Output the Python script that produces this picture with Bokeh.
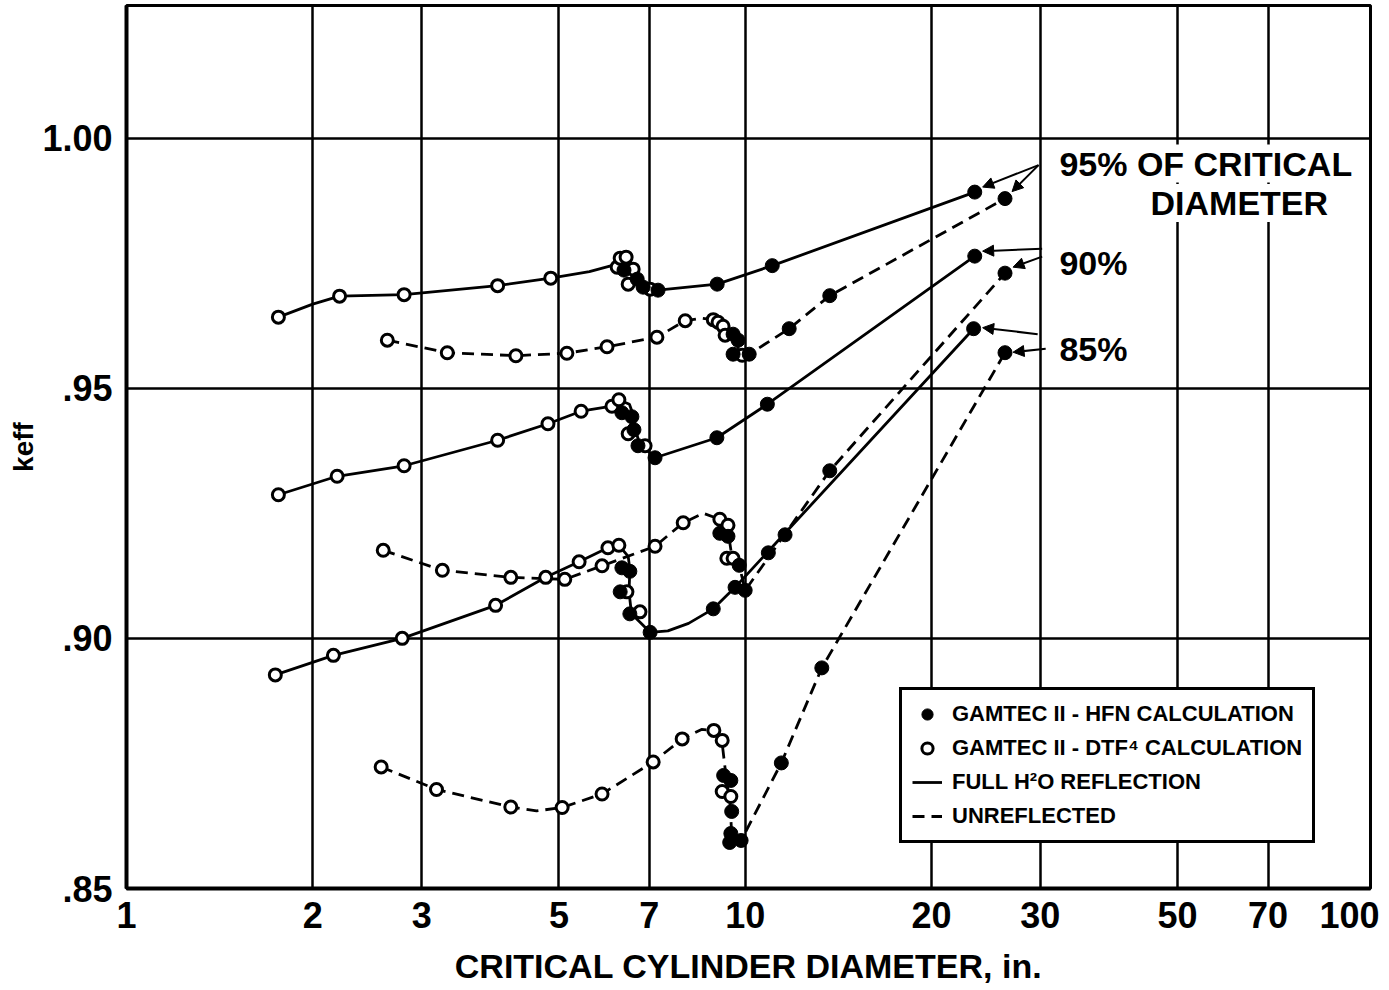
from bokeh.plotting import figure
from bokeh.models import FixedTicker, Legend, LegendItem, Arrow, NormalHead, Label
from bokeh.embed import file_html
from bokeh.resources import INLINE

FONT = "Liberation Sans"

# ---- axis ticks ----
x_ticks = [1, 2, 3, 5, 7, 10, 20, 30, 50, 70, 100]
x_grid = [2, 3, 5, 7, 10, 20, 30, 50, 70]
y_ticks = [0.85, 0.90, 0.95, 1.00]
y_tick_labels = [".85", ".90", ".95", "1.00"]

# ---- 95% of critical diameter, full H2O reflection ----
c95_full_line_x = [1.76, 2.0, 2.21, 2.81, 3.98, 4.85, 5.6, 6.21, 6.3, 6.45, 6.6, 6.75, 7.0, 7.23, 9.01, 11.06, 23.5]
c95_full_line_k = [.9642, .9668, .9684, .9687, .9705, .9720, .9733, .9748, .9762, .9764, .9742, .9710, .9697, .9696, .9708, .9745, .9892]
c95_full_dtf_x = [1.76, 2.21, 2.81, 3.98, 4.85, 6.21, 6.28, 6.42, 6.59, 6.47, 7.02]
c95_full_dtf_k = [.9642, .9684, .9687, .9705, .9720, .9742, .9760, .9762, .9738, .9708, .9698]
c95_full_hfn_x = [6.37, 6.69, 6.84, 7.23, 9.01, 11.06, 23.5]
c95_full_hfn_k = [.9736, .9718, .9702, .9696, .9708, .9745, .9892]

# ---- 95%, unreflected ----
c95_bare_line_x = [2.64, 3.30, 4.26, 5.15, 5.98, 7.2, 8.0, 8.5, 8.88, 9.21, 9.5, 9.7, 9.9, 10.15, 11.78, 13.7, 26.3]
c95_bare_line_k = [.9596, .9571, .9565, .9570, .9583, .9602, .9635, .9640, .9637, .9624, .9605, .9585, .9566, .9568, .9619, .9685, .9879]
c95_bare_dtf_x = [2.64, 3.30, 4.26, 5.15, 5.98, 7.2, 8.0, 8.88, 9.04, 9.21, 9.28, 9.89]
c95_bare_dtf_k = [.9596, .9571, .9565, .9570, .9583, .9602, .9635, .9637, .9632, .9624, .9606, .9566]
c95_bare_hfn_x = [9.56, 9.74, 9.56, 10.15, 11.78, 13.7, 26.3]
c95_bare_hfn_k = [.9608, .9596, .9568, .9568, .9619, .9685, .9879]

# ---- 90%, full H2O reflection ----
c90_full_line_x = [1.76, 2.19, 2.81, 3.98, 4.8, 5.43, 6.09, 6.25, 6.5, 6.6, 6.63, 6.75, 7.15, 9.0, 10.86, 23.5]
c90_full_line_k = [.9287, .9324, .9345, .9396, .9429, .9454, .9464, .9477, .9468, .9445, .9420, .9390, .9361, .9401, .9468, .9764]
c90_full_dtf_x = [1.76, 2.19, 2.81, 3.98, 4.8, 5.43, 6.09, 6.25, 6.47, 6.89]
c90_full_dtf_k = [.9287, .9324, .9345, .9396, .9429, .9454, .9464, .9477, .9409, .9385]
c90_full_hfn_x = [6.32, 6.56, 6.61, 6.71, 7.15, 9.0, 10.86, 23.5]
c90_full_hfn_k = [.9451, .9443, .9417, .9385, .9361, .9401, .9468, .9764]

# ---- 90%, unreflected ----
c90_bare_line_x = [2.6, 3.24, 4.18, 5.11, 5.87, 7.15, 7.94, 8.56, 9.1, 9.38, 9.5, 9.78, 10.0, 13.7, 26.3]
c90_bare_line_k = [.9176, .9136, .9122, .9118, .9145, .9184, .9231, .9250, .9238, .9215, .9170, .9146, .9096, .9335, .9730]
c90_bare_dtf_x = [2.6, 3.24, 4.18, 5.11, 5.87, 7.15, 7.94, 9.1, 9.38, 9.34, 9.56]
c90_bare_dtf_k = [.9176, .9136, .9122, .9118, .9145, .9184, .9231, .9238, .9226, .9160, .9160]
c90_bare_hfn_x = [9.1, 9.38, 9.78, 10.0, 13.7, 26.3]
c90_bare_hfn_k = [.9210, .9204, .9146, .9096, .9335, .9730]

# ---- 85%, full H2O reflection ----
c85_full_line_x = [1.74, 2.16, 2.79, 3.95, 4.76, 5.39, 6.0, 6.25, 6.47, 6.51, 6.49, 6.55, 7.02, 7.5, 8.1, 8.88, 9.63, 23.4]
c85_full_line_k = [.8927, .8966, .9000, .9066, .9122, .9153, .9181, .9186, .9164, .9138, .9093, .9049, .9012, .9015, .9030, .9059, .9102, .9619]
c85_full_dtf_x = [1.74, 2.16, 2.79, 3.95, 4.76, 5.39, 6.0, 6.25, 6.44, 6.76]
c85_full_dtf_k = [.8927, .8966, .9000, .9066, .9122, .9153, .9181, .9186, .9093, .9053]
c85_full_hfn_x = [6.32, 6.51, 6.28, 6.51, 7.02, 8.88, 9.63, 10.9, 11.6, 23.4]
c85_full_hfn_k = [.9141, .9134, .9093, .9049, .9012, .9059, .9102, .9171, .9207, .9619]

# ---- 85%, unreflected ----
c85_bare_line_x = [2.58, 3.17, 4.18, 4.6, 5.06, 5.87, 7.1, 7.91, 8.5, 8.9, 9.18, 9.3, 9.45, 9.5, 9.6, 9.85, 11.44, 13.3, 26.3]
c85_bare_line_k = [.8743, .8698, .8663, .8655, .8662, .8689, .8753, .8799, .8818, .8816, .8790, .8730, .8670, .8620, .8592, .8596, .8751, .8941, .9571]
c85_bare_dtf_x = [2.58, 3.17, 4.18, 5.06, 5.87, 7.1, 7.91, 8.9, 9.18, 9.18, 9.48]
c85_bare_dtf_k = [.8743, .8698, .8663, .8662, .8689, .8753, .8799, .8816, .8796, .8694, .8684]
c85_bare_hfn_x = [9.23, 9.48, 9.51, 9.48, 9.44, 9.85, 11.44, 13.3, 26.3]
c85_bare_hfn_k = [.8726, .8716, .8654, .8610, .8592, .8596, .8751, .8941, .9571]

# ---- callout labels and their arrows ----
callout_text = ["95% OF CRITICAL", "DIAMETER", "90%", "85%"]
callout_x = [32.2, 62.9, 32.2, 32.2]
callout_k = [.9949, .9870, .9750, .9579]
callout_align = ["left", "center", "left", "left"]
arrow_x0 = [29.8, 29.8, 30.2, 30.2, 29.7, 30.6]
arrow_k0 = [.9946, .9946, .9779, .9763, .9608, .9579]
arrow_x1 = [24.2, 27.0, 24.2, 27.1, 24.2, 27.1]
arrow_k1 = [.9902, .9893, .9774, .9742, .9621, .9572]

curves = [
    (c95_full_line_x, c95_full_line_k, c95_full_dtf_x, c95_full_dtf_k, c95_full_hfn_x, c95_full_hfn_k, "solid"),
    (c95_bare_line_x, c95_bare_line_k, c95_bare_dtf_x, c95_bare_dtf_k, c95_bare_hfn_x, c95_bare_hfn_k, "dashed"),
    (c90_full_line_x, c90_full_line_k, c90_full_dtf_x, c90_full_dtf_k, c90_full_hfn_x, c90_full_hfn_k, "solid"),
    (c90_bare_line_x, c90_bare_line_k, c90_bare_dtf_x, c90_bare_dtf_k, c90_bare_hfn_x, c90_bare_hfn_k, "dashed"),
    (c85_full_line_x, c85_full_line_k, c85_full_dtf_x, c85_full_dtf_k, c85_full_hfn_x, c85_full_hfn_k, "solid"),
    (c85_bare_line_x, c85_bare_line_k, c85_bare_dtf_x, c85_bare_dtf_k, c85_bare_hfn_x, c85_bare_hfn_k, "dashed"),
]

p = figure(width=1389, height=990, x_axis_type="log", x_range=(1, 102.5), y_range=(0.85, 1.0265),
           output_backend="svg", toolbar_location=None,
           min_border_left=126, min_border_right=19, min_border_top=5, min_border_bottom=102)
p.background_fill_color = "white"
p.border_fill_color = "white"
p.outline_line_color = "black"
p.outline_line_width = 3
p.outline_line_alpha = 1.0

# axes; the last x label carries a trailing narrow space so it stays inside the canvas
p.xaxis.ticker = FixedTicker(ticks=x_ticks)
p.xaxis.major_label_overrides = {t: (str(t) + "\u2008" if t == 100 else str(t)) for t in x_ticks}
p.yaxis.ticker = FixedTicker(ticks=y_ticks)
p.yaxis.major_label_overrides = dict(zip(y_ticks, y_tick_labels))
for ax in (p.xaxis[0], p.yaxis[0]):
    ax.axis_line_width = 4
    ax.axis_line_color = "black"
    ax.major_tick_line_color = None
    ax.minor_tick_line_color = None
    ax.major_label_text_font = FONT
    ax.major_label_text_font_style = "bold"
    ax.major_label_text_color = "black"
    ax.axis_label_text_font = FONT
    ax.axis_label_text_font_style = "bold"
    ax.axis_label_text_color = "black"
p.xaxis.major_label_text_font_size = "36px"
p.yaxis.major_label_text_font_size = "36px"
p.xaxis.major_label_standoff = 0
p.yaxis.major_label_standoff = 8
p.xaxis.axis_label = "CRITICAL CYLINDER DIAMETER, in."
p.xaxis.axis_label_text_font_size = "34px"
p.xaxis.axis_label_standoff = 8
p.yaxis.axis_label = "keff"
p.yaxis.axis_label_text_font_size = "28px"
p.yaxis.axis_label_standoff = 0

# grid
p.xgrid.ticker = FixedTicker(ticks=x_grid)
p.ygrid.ticker = FixedTicker(ticks=[0.90, 0.95, 1.00])
for g in (p.xgrid[0], p.ygrid[0]):
    g.grid_line_color = "black"
    g.grid_line_width = 2.5
    g.grid_line_alpha = 1.0

# curves and points
solid_r = dashed_r = hfn_r = dtf_r = None
for lx, lk, ox, ok, fx, fk, style in curves:
    if style == "solid":
        r = p.line(lx, lk, line_color="black", line_width=2.8)
        solid_r = solid_r or r
    else:
        r = p.line(lx, lk, line_color="black", line_width=2.8, line_dash="12 7")
        dashed_r = dashed_r or r
    ro = p.scatter(ox, ok, marker="circle", size=12, line_color="black", line_width=3, fill_color="white")
    rf = p.scatter(fx, fk, marker="circle", size=14, line_color="black", fill_color="black")
    dtf_r = dtf_r or ro
    hfn_r = hfn_r or rf

# callouts, on a white ground that breaks the grid behind them
for t, x, k, a in zip(callout_text, callout_x, callout_k, callout_align):
    p.add_layout(Label(x=x, y=k, text=t, text_align=a, text_baseline="middle",
                       text_font=FONT, text_font_style="bold", text_font_size="34px", text_color="black",
                       background_fill_color="white", background_fill_alpha=1.0, padding=0))
for x0, k0, x1, k1 in zip(arrow_x0, arrow_k0, arrow_x1, arrow_k1):
    p.add_layout(Arrow(x_start=x0, y_start=k0, x_end=x1, y_end=k1, line_width=2, line_color="black",
                       end=NormalHead(size=11, fill_color="black", line_color="black", line_width=1)))

legend = Legend(items=[
    LegendItem(label="GAMTEC II - HFN CALCULATION", renderers=[hfn_r]),
    LegendItem(label="GAMTEC II - DTF\u2074 CALCULATION", renderers=[dtf_r]),
    LegendItem(label="FULL H\u00b2O REFLECTION", renderers=[solid_r]),
    LegendItem(label="UNREFLECTED", renderers=[dashed_r]),
], location=(773, 45))
legend.label_text_font = FONT
legend.label_text_font_style = "bold"
legend.label_text_font_size = "22px"
legend.label_text_color = "black"
legend.border_line_color = "black"
legend.border_line_alpha = 1.0
legend.border_line_width = 3
legend.background_fill_color = "white"
legend.background_fill_alpha = 1.0
legend.padding = 10
legend.spacing = 6
legend.label_height = 28
legend.glyph_height = 28
legend.glyph_width = 30
legend.label_standoff = 10
legend.margin = 0
p.add_layout(legend)

open("out.html", "w").write(file_html(p, INLINE))
